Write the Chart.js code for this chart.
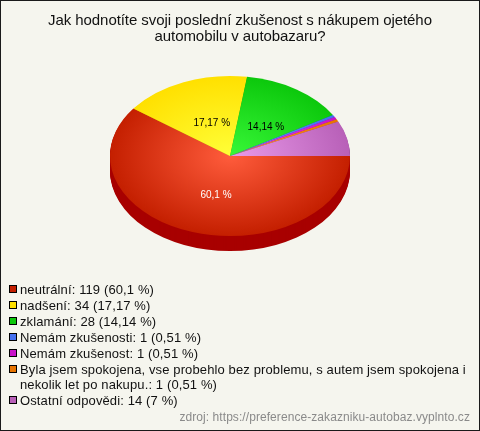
<!DOCTYPE html>
<html lang="cs"><head><meta charset="utf-8">
<script src="https://cdn.jsdelivr.net/npm/chart.js@4"></script>
<style>
html,body{margin:0;padding:0;background:#f5f5ee}
#frame{position:relative;width:478px;height:429px;border:1px solid #1a1a1a;background:#f5f5ee;overflow:hidden;font-family:"Liberation Sans",Arial,sans-serif;color:#111}
#c{position:absolute;left:-1px;top:-1px}
#title{position:absolute;left:0;width:478px;top:11px;text-align:center;font-size:15px;line-height:16px;letter-spacing:-0.07px}
#legend{position:absolute;left:8px;top:281px;width:470px;font-size:13px;line-height:15px;letter-spacing:0.12px}
.row{position:relative;padding-left:11px;margin-bottom:1px}
.box{position:absolute;left:0;top:3px;width:6px;height:6px;border:1px solid #000}
#src{position:absolute;right:9px;top:409px;font-size:12px;color:#8a8a8a;letter-spacing:0.07px}
</style></head><body>
<div id="frame">
<canvas id="c" width="480" height="431"></canvas>
<div id="title">Jak hodnotíte svoji poslední zkušenost s nákupem ojetého<br>automobilu v autobazaru?</div>
<div id="legend"></div>
<div id="src">zdroj: https://preference-zakazniku-autobaz.vyplnto.cz</div>
</div>
<script>
const categories = ['neutrální','nadšení','zklamání','Nemám zkušenosti','Nemám zkušenost','Byla jsem spokojena, vse probehlo bez problemu, s autem jsem spokojena i nekolik let po nakupu.','Ostatní odpovědi'];
const values = [119,34,28,1,1,1,14];
const percents = ['60,1','17,17','14,14','0,51','0,51','0,51','7'];
const edgeColors = ['#c41f00','#ffe000','#0cc80c','#4470f0','#c812c8','#e87400','#b860b8'];
const centerColors = ['#ff5c3c','#ffff38','#38f838','#6090ff','#f040f0','#ff9830','#ea9aea'];
const sideColors = ['#a80000','#b8a000','#089008','#3050b0','#900c90','#a85000','#884488'];
const labelColors = ['#ffffff','#000000','#000000'];
const labelMin = 10;
const squash = 2/3, depth = 15, labelRadius = 0.48, labelShiftX = 4, labelShiftY = 3;

const pieLook = {
  id:'pieLook',
  beforeDatasetsDraw(chart){
    const ctx = chart.ctx, arcs = chart.getDatasetMeta(0).data;
    const a0 = arcs[0], cx = a0.x, cy = a0.y;
    ctx.save();
    for(let d=depth;d>0;d--){
      arcs.forEach((a,i)=>{
        ctx.beginPath();
        ctx.fillStyle = sideColors[i];
        ctx.moveTo(cx,cy+d);
        ctx.ellipse(cx,cy+d,a.outerRadius,a.outerRadius*squash,0,a.startAngle,a.endAngle);
        ctx.closePath();ctx.fill();
      });
    }
    ctx.restore();
    ctx.save();
    ctx.translate(cx,cy);ctx.scale(1,squash);ctx.translate(-cx,-cy);
  },
  afterDatasetsDraw(chart){
    const ctx = chart.ctx, arcs = chart.getDatasetMeta(0).data;
    ctx.restore();
    ctx.save();
    ctx.font = '10px "Liberation Sans", Arial, sans-serif';
    ctx.textAlign='center';ctx.textBaseline='middle';
    arcs.forEach((a,i)=>{
      if(parseFloat(percents[i].replace(',','.'))<labelMin) return;
      const m=(a.startAngle+a.endAngle)/2, r=a.outerRadius*labelRadius;
      ctx.fillStyle=labelColors[i];
      ctx.fillText(percents[i]+' %',a.x+Math.cos(m)*r+labelShiftX,a.y+Math.sin(m)*r*squash+labelShiftY);
    });
    ctx.restore();
  }
};

new Chart(document.getElementById('c'),{
  type:'pie',
  data:{labels:categories,datasets:[{
    data:values,
    borderWidth:0,
    backgroundColor(c){
      const area=c.chart.chartArea;
      if(!area) return edgeColors[c.dataIndex];
      const x=(area.left+area.right)/2,y=(area.top+area.bottom)/2,R=(area.right-area.left)/2;
      const g=c.chart.ctx.createRadialGradient(x,y,0,x,y,R);
      g.addColorStop(0,centerColors[c.dataIndex]);
      g.addColorStop(1,edgeColors[c.dataIndex]);
      return g;
    }
  }]},
  options:{
    responsive:false,animation:false,rotation:90,
    layout:{padding:{left:110,right:130,top:36,bottom:155}},
    plugins:{legend:{display:false},tooltip:{enabled:false},title:{display:false}}
  },
  plugins:[pieLook]
});

const lg=document.getElementById('legend');
categories.forEach((n,i)=>{
  const r=document.createElement('div');r.className='row';
  const b=document.createElement('span');b.className='box';b.style.background=edgeColors[i];
  r.appendChild(b);
  r.appendChild(document.createTextNode(n+': '+values[i]+' ('+percents[i]+' %)'));
  lg.appendChild(r);
});
</script>
</body></html>
